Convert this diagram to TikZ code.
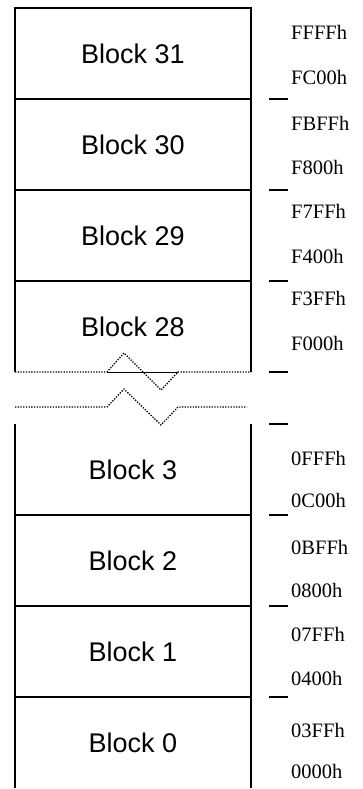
\documentclass[tikz,border=0pt]{standalone}
\usepackage{fontspec}
\setmainfont{Liberation Serif}
\setsansfont{Liberation Sans}
\usetikzlibrary{positioning}

\begin{document}
\begin{tikzpicture}[x=1pt,y=-1pt,
	block/.style={rectangle,minimum width=236pt,minimum height=91pt,inner sep=0pt,outer sep=0pt,font=\sffamily\fontsize{27}{32}\selectfont},
	addr/.style={anchor=base west,inner sep=0pt,font=\fontsize{20.5}{24}\selectfont},
	frame/.style={line width=2.3pt},
	tick/.style={line width=1.9pt},
	brk/.style={line width=1.3pt,dash pattern=on 1.3pt off 1.4pt}]
	\useasboundingbox (0,0) rectangle (363,789);

	% blocks
	\node[block](b31) at (133,53.5) {Block 31};
	\node[block,below=0pt of b31](b30) {Block 30};
	\node[block,below=0pt of b30](b29) {Block 29};
	\node[block,below=0pt of b29](b28) {Block 28};
	\node[block](b3) at (133,469.5) {Block 3};
	\node[block,below=0pt of b3](b2) {Block 2};
	\node[block,below=0pt of b2](b1) {Block 1};
	\node[block,below=0pt of b1](b0) {Block 0};

	\draw[frame] (b28.south west) |- (b31.north east) -- (b28.south east);
	\draw[frame] (b0.south west) -- (b3.north west) (b3.north east) -- (b0.south east);
	\foreach \n in {b31,b30,b29,b3,b2,b1}
		\draw[frame] (\n.south west) -- (\n.south east);

	% break
	\coordinate (gap) at (15,407);
	\draw[brk] (b28.south west) -- ++(92,0) -- ++(17,-19) -- ++(37,37) -- ++(17,-18) -- (b28.south east);
	\draw[thin] ([xshift=92pt]b28.south west) -- ++(71,0);
	\draw[brk] (gap) -- ++(92,0) -- ++(17,-18) -- ++(37,36) -- ++(17,-18) -- ++(69,0);

	% ticks
	\foreach \n in {b31,b30,b29,b28,b3,b2,b1}
		\draw[tick] ([xshift=18pt]\n.south east) -- ++(19,0);
	\draw[tick] ([xshift=18pt]b3.north east) -- ++(19,0);

	% addresses
	\node[addr](a31h) at (291,40) {FFFFh};
	\node[addr](a31l) at (291,85) {FC00h};
	\node[addr](a30h) at (291,130) {FBFFh};
	\node[addr](a30l) at (291,174) {F800h};
	\node[addr](a29h) at (291,218) {F7FFh};
	\node[addr](a29l) at (291,263) {F400h};
	\node[addr](a28h) at (291,305) {F3FFh};
	\node[addr](a28l) at (291,350) {F000h};
	\node[addr](a3h) at (291,465) {0FFFh};
	\node[addr](a3l) at (291,507) {0C00h};
	\node[addr](a2h) at (291,554) {0BFFh};
	\node[addr](a2l) at (291,597) {0800h};
	\node[addr](a1h) at (291,641) {07FFh};
	\node[addr](a1l) at (291,685) {0400h};
	\node[addr](a0h) at (291,737) {03FFh};
	\node[addr](a0l) at (291,778) {0000h};
\end{tikzpicture}
\end{document}
